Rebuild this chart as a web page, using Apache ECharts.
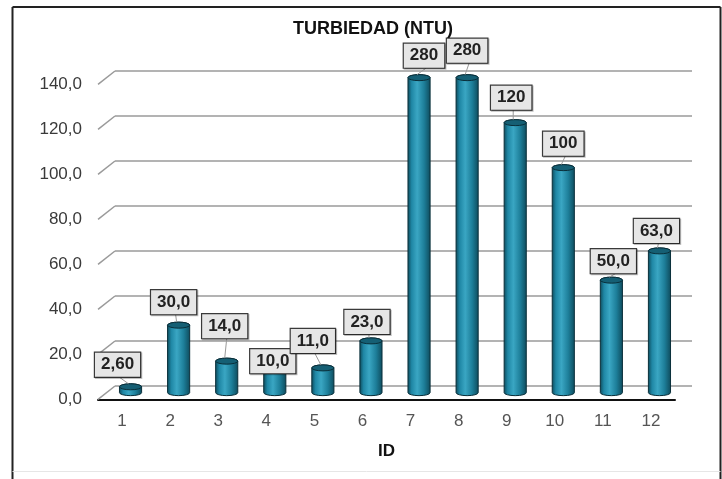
<!DOCTYPE html>
<html>
<head>
<meta charset="utf-8">
<script src="https://cdn.jsdelivr.net/npm/echarts@6/dist/echarts.min.js"></script>
<style>
  html, body { margin: 0; padding: 0; background: #fff; }
  #chart { width: 722px; height: 479px; }
</style>
</head>
<body>
<div id="chart"></div>
<script>
// Turbidity per sample ID
const categories = ['1', '2', '3', '4', '5', '6', '7', '8', '9', '10', '11', '12'];
const turbidity = [2.6, 30, 14, 10, 11, 23, 280, 280, 120, 100, 50, 63];
const yTicks = [0, 20, 40, 60, 80, 100, 120, 140];
const yTickLabels = ['0,0', '20,0', '40,0', '60,0', '80,0', '100,0', '120,0', '140,0'];

// Value-label box placement relative to the top of each cylinder (px)
const labelShift = [
  [-13, -22], [-5, -23], [-2, -35], [-2, -9], [-10, -27], [-4, -19],
  [5, -22], [0, -27], [-4, -25], [0, -24], [2, -19], [-3, -20]
];

const Y_MIN = 0, Y_MAX = 140, Y_STEP = 20;

// Pseudo-3D layout: front face, mid depth (bars), back wall
const PLOT = { left: 98, top: 84.3, width: 577, height: 315 };
const DEPTH = [17, -13.3];
const MID = [8.5, -6.65];

function fmt(v) {
  return v.toPrecision(3).replace('.', ',');
}

const chart = echarts.init(document.getElementById('chart'), null, { renderer: 'canvas' });

const valueAxisBase = { type: 'value', min: Y_MIN, max: Y_MAX, interval: Y_STEP };

const option = {
  backgroundColor: '#ffffff',
  animation: false,
  title: {
    text: 'TURBIEDAD (NTU)',
    left: 368,
    top: 15,
    textAlign: 'center',
    textStyle: { fontFamily: 'Liberation Sans, Arial, sans-serif', fontSize: 18, fontWeight: 'bold', color: '#111' }
  },
  grid: [
    { left: PLOT.left, top: PLOT.top, width: PLOT.width, height: PLOT.height },
    { left: PLOT.left + MID[0], top: PLOT.top + MID[1], width: PLOT.width, height: PLOT.height },
    { left: PLOT.left + DEPTH[0], top: PLOT.top + DEPTH[1], width: PLOT.width, height: PLOT.height }
  ],
  xAxis: [
    {
      type: 'category', gridIndex: 0, data: categories,
      axisLine: { lineStyle: { color: '#111', width: 2 } },
      axisTick: { show: false },
      axisLabel: { margin: 14, fontFamily: 'Liberation Sans, Arial, sans-serif', fontSize: 17, color: '#555' },
      name: 'ID', nameLocation: 'middle', nameGap: 44,
      nameTextStyle: { fontFamily: 'Liberation Sans, Arial, sans-serif', fontSize: 17, fontWeight: 'bold', color: '#111' }
    },
    { type: 'category', gridIndex: 1, data: categories, show: false },
    { type: 'category', gridIndex: 2, data: categories, show: false }
  ],
  yAxis: [
    Object.assign({}, valueAxisBase, {
      gridIndex: 0,
      axisLine: { show: false }, axisTick: { show: false }, splitLine: { show: false },
      axisLabel: {
        margin: 16, fontFamily: 'Liberation Sans, Arial, sans-serif', fontSize: 17, color: '#3a3a3a',
        formatter: function (v) { return yTickLabels[yTicks.indexOf(v)]; }
      }
    }),
    Object.assign({}, valueAxisBase, { gridIndex: 1, show: false }),
    Object.assign({}, valueAxisBase, {
      gridIndex: 2,
      axisLine: { show: false }, axisTick: { show: false }, axisLabel: { show: false },
      splitLine: { show: true, lineStyle: { color: '#9a9a9a', width: 1.5 } }
    })
  ],
  series: [
    {
      // slanted stubs joining each tick on the front edge to the back wall
      type: 'custom',
      xAxisIndex: 0, yAxisIndex: 0,
      data: yTicks.map(function (v) { return [0, v]; }),
      silent: true,
      z: 1,
      renderItem: function (params, api) {
        const p = api.coord([0, api.value(1)]);
        const half = api.size([1, 0])[0] / 2;
        const x0 = p[0] - half;
        return {
          type: 'line',
          shape: { x1: x0, y1: p[1], x2: x0 + DEPTH[0], y2: p[1] + DEPTH[1] },
          style: { stroke: '#9a9a9a', lineWidth: 1.5 }
        };
      }
    },
    {
      // cylinders with their value boxes
      type: 'custom',
      xAxisIndex: 1, yAxisIndex: 1,
      data: turbidity.map(function (v, i) { return [i, v]; }),
      z: 5,
      renderItem: function (params, api) {
        const i = api.value(0);
        const v = api.value(1);
        const top = api.coord([i, Math.min(v, Y_MAX)]);
        const base = api.coord([i, 0]);
        const bw = api.size([1, 0])[0] * 0.46;
        const rx = bw / 2, ry = 3;
        const x0 = top[0] - rx, x1 = top[0] + rx;
        const yt = top[1], yb = base[1];
        const bodyFill = new echarts.graphic.LinearGradient(0, 0, 1, 0, [
          { offset: 0, color: '#0d4858' },
          { offset: 0.18, color: '#1f87a5' },
          { offset: 0.42, color: '#3aa6c3' },
          { offset: 0.72, color: '#1d7e99' },
          { offset: 1, color: '#0e4a5b' }
        ]);
        const body = 'M' + x0 + ' ' + yt + ' L' + x0 + ' ' + yb +
          ' A' + rx + ' ' + ry + ' 0 0 0 ' + x1 + ' ' + yb +
          ' L' + x1 + ' ' + yt +
          ' A' + rx + ' ' + ry + ' 0 0 0 ' + x0 + ' ' + yt + ' Z';
        const cap = 'M' + x0 + ' ' + yt +
          ' A' + rx + ' ' + ry + ' 0 1 0 ' + x1 + ' ' + yt +
          ' A' + rx + ' ' + ry + ' 0 1 0 ' + x0 + ' ' + yt + ' Z';

        const sh = labelShift[i];
        const lx = top[0] + sh[0];
        const ly = yt + sh[1];
        const children = [
          { type: 'path', shape: { pathData: body }, style: { fill: bodyFill, stroke: '#0a2f3a', lineWidth: 1 } },
          { type: 'path', shape: { pathData: cap }, style: { fill: '#155f74', stroke: '#0a2f3a', lineWidth: 1 } }
        ];
        const gapTop = ly + 12.5;
        if (yt - ry - gapTop > 1) {
          children.push({
            type: 'line',
            shape: { x1: lx + 2, y1: gapTop, x2: top[0] - 2, y2: yt - ry },
            style: { stroke: '#9a9a9a', lineWidth: 1 }
          });
        }
        children.push({
          type: 'text',
          z2: 10,
          style: {
            x: lx, y: ly,
            text: fmt(v),
            align: 'center', verticalAlign: 'middle',
            fontFamily: 'Liberation Sans, Arial, sans-serif',
            fontSize: 17, fontWeight: 'bold',
            fill: '#222',
            backgroundColor: '#e6e6e6',
            borderColor: '#3a3a3a', borderWidth: 1.2,
            padding: [4, 6, 3, 6],
            shadowColor: 'rgba(0,0,0,0.25)', shadowOffsetX: 1, shadowOffsetY: 1
          }
        });
        return { type: 'group', children: children };
      }
    }
  ],
  graphic: [
    { type: 'line', shape: { x1: 12.5, y1: 7, x2: 12.5, y2: 479 }, style: { stroke: '#222', lineWidth: 2 } },
    { type: 'line', shape: { x1: 12.5, y1: 7, x2: 720.5, y2: 7 }, style: { stroke: '#222', lineWidth: 2 } },
    { type: 'line', shape: { x1: 720.5, y1: 7, x2: 720.5, y2: 479 }, style: { stroke: '#222', lineWidth: 2 } },
    { type: 'line', shape: { x1: 12.5, y1: 471.5, x2: 720.5, y2: 471.5 }, style: { stroke: '#e6e6e6', lineWidth: 1 } }
  ]
};

chart.setOption(option);
</script>
</body>
</html>
